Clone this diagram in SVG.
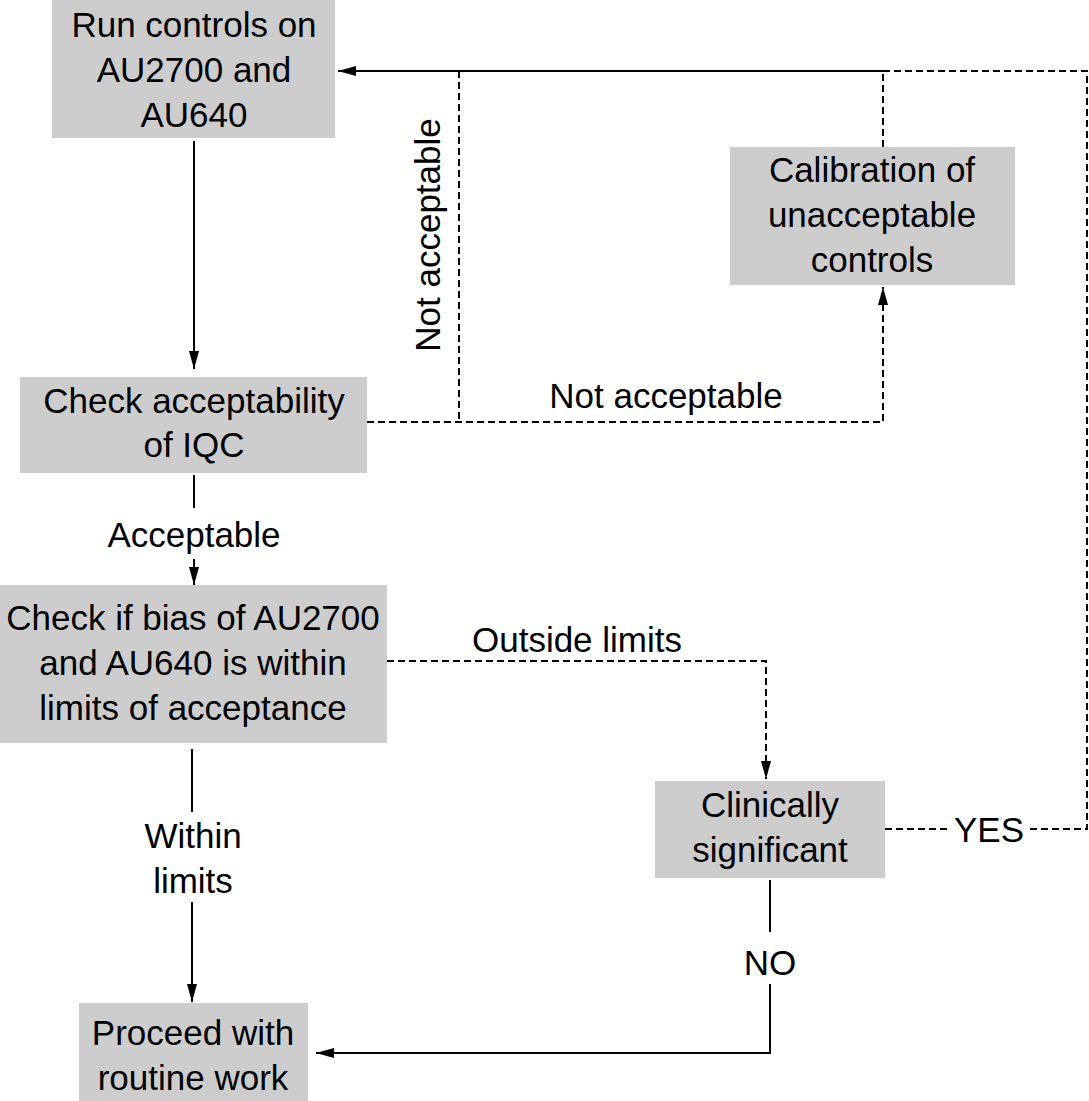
<svg xmlns="http://www.w3.org/2000/svg" width="1089" height="1101" viewBox="0 0 1089 1101">
  <style>
    .box { fill: #cdcdcd; }
    .t { font-family: "Liberation Sans", Arial, sans-serif; font-size: 35px; fill: #000; text-anchor: middle; }
    .solid { fill: none; stroke: #000; stroke-width: 2; }
    .dash { fill: none; stroke: #000; stroke-width: 2; stroke-dasharray: 7 4; }
  </style>
  <defs>
    <marker id="ah" markerUnits="userSpaceOnUse" markerWidth="20" markerHeight="12" refX="18" refY="5" orient="auto">
      <path d="M0,0 L18,5 L0,10 Z" fill="#000"/>
    </marker>
  </defs>
  <rect width="1089" height="1101" fill="#fff"/>

  <g id="connectors">
    <line class="solid" x1="194" y1="141" x2="194" y2="369" marker-end="url(#ah)"/>
    <line class="solid" x1="194" y1="475" x2="194" y2="508"/>
    <line class="solid" x1="194" y1="559" x2="194" y2="585" marker-end="url(#ah)"/>
    <line class="solid" x1="192" y1="749" x2="192" y2="812"/>
    <line class="solid" x1="192" y1="902" x2="192" y2="1002" marker-end="url(#ah)"/>
    <path class="dash" d="M387,661 H766 V779" marker-end="url(#ah)"/>
    <line class="solid" x1="770" y1="880" x2="770" y2="932"/>
    <path class="solid" d="M770,984 V1053 H316" marker-end="url(#ah)"/>
    <line class="dash" x1="885" y1="829" x2="947" y2="829"/>
    <path class="dash" d="M1030,829 H1087 V71 H883"/>
    <path class="solid" d="M883,71 H338" marker-end="url(#ah)"/>
    <line class="dash" x1="883" y1="147" x2="883" y2="71"/>
    <path class="dash" d="M367,422 H883 V287" marker-end="url(#ah)"/>
    <line class="dash" x1="459" y1="71" x2="459" y2="422"/>
    <text class="t" x="194" y="547">Acceptable</text>
    <text class="t" x="193" y="848">Within</text>
    <text class="t" x="193" y="893">limits</text>
    <text class="t" x="577" y="652">Outside limits</text>
    <text class="t" x="666" y="408">Not acceptable</text>
    <text class="t" transform="translate(440,235) rotate(-90)">Not acceptable</text>
    <text class="t" x="989" y="842">YES</text>
    <text class="t" x="770" y="975">NO</text>
  </g>

  <g id="run-controls">
    <rect class="box" x="52" y="0" width="283" height="138"/>
    <text class="t" x="194" y="37">Run controls on</text>
    <text class="t" x="194" y="82">AU2700 and</text>
    <text class="t" x="194" y="127">AU640</text>
  </g>
  <g id="check-iqc">
    <rect class="box" x="20" y="377" width="347" height="96"/>
    <text class="t" x="194" y="413">Check acceptability</text>
    <text class="t" x="194" y="457">of IQC</text>
  </g>
  <g id="check-bias">
    <rect class="box" x="0" y="585" width="387" height="158"/>
    <text class="t" x="193" y="630">Check if bias of AU2700</text>
    <text class="t" x="193" y="675">and AU640 is within</text>
    <text class="t" x="193" y="720">limits of acceptance</text>
  </g>
  <g id="calibration">
    <rect class="box" x="730" y="147" width="285" height="138"/>
    <text class="t" x="872" y="182">Calibration of</text>
    <text class="t" x="872" y="227">unacceptable</text>
    <text class="t" x="872" y="272">controls</text>
  </g>
  <g id="clinically-significant">
    <rect class="box" x="655" y="781" width="230" height="97"/>
    <text class="t" x="770" y="817">Clinically</text>
    <text class="t" x="770" y="862">significant</text>
  </g>
  <g id="proceed">
    <rect class="box" x="79" y="1003" width="229" height="98"/>
    <text class="t" x="193" y="1045">Proceed with</text>
    <text class="t" x="193" y="1090">routine work</text>
  </g>
</svg>
